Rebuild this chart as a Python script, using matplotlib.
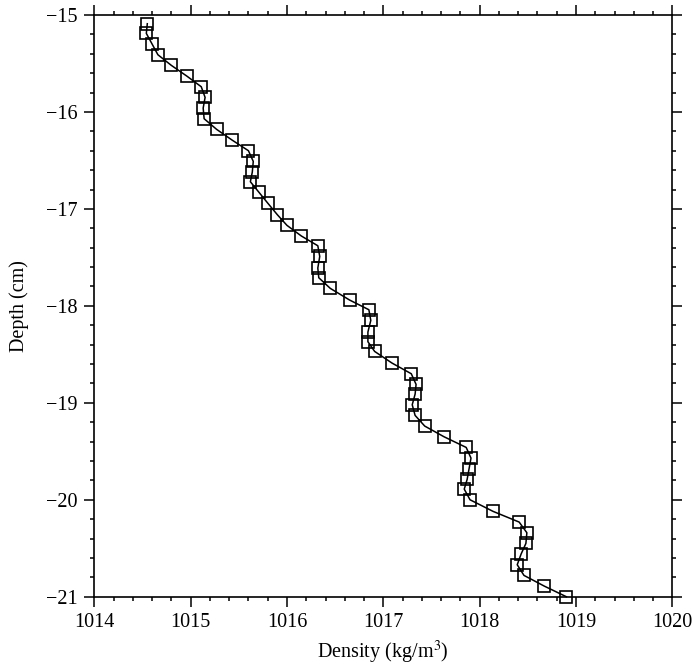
import matplotlib
matplotlib.use('Agg')
import matplotlib.pyplot as plt
from matplotlib.ticker import MultipleLocator

# density profile
density = [1014.55, 1014.54, 1014.60, 1014.66, 1014.80, 1014.96, 1015.11, 1015.15,
           1015.13, 1015.14, 1015.27, 1015.43, 1015.60, 1015.65, 1015.64, 1015.62,
           1015.71, 1015.80, 1015.90, 1016.00, 1016.15, 1016.32, 1016.34, 1016.32,
           1016.33, 1016.45, 1016.65, 1016.85, 1016.87, 1016.84, 1016.84, 1016.91,
           1017.09, 1017.29, 1017.34, 1017.33, 1017.30, 1017.33, 1017.43, 1017.63,
           1017.86, 1017.91, 1017.89, 1017.87, 1017.84, 1017.90, 1018.14, 1018.41,
           1018.49, 1018.48, 1018.43, 1018.39, 1018.46, 1018.67, 1018.90]
depth = [-15.09, -15.19, -15.30, -15.41, -15.52, -15.63, -15.74, -15.85,
         -15.96, -16.07, -16.18, -16.29, -16.40, -16.51, -16.62, -16.72,
         -16.83, -16.94, -17.06, -17.17, -17.28, -17.38, -17.49, -17.61,
         -17.71, -17.82, -17.94, -18.04, -18.15, -18.27, -18.37, -18.47,
         -18.59, -18.70, -18.81, -18.91, -19.02, -19.13, -19.24, -19.35,
         -19.46, -19.57, -19.68, -19.79, -19.89, -20.00, -20.12, -20.23,
         -20.34, -20.45, -20.56, -20.67, -20.78, -20.89, -21.00]

plt.rcParams['font.family'] = ['Liberation Serif', 'DejaVu Serif']
plt.rcParams['mathtext.fontset'] = 'stix'
plt.rcParams['axes.unicode_minus'] = True

fig = plt.figure(figsize=(6.96, 6.66), dpi=100)
ax = fig.add_axes([0.1355, 0.104, 0.8305, 0.8735])

ax.plot(density, depth, color='black', lw=1.1, marker='s', ms=8.5,
        mfc='none', mec='black', mew=1.2, clip_on=False, zorder=3)

ax.set_xlim(1014, 1020)
ax.set_ylim(-21, -15)
ax.xaxis.set_major_locator(MultipleLocator(1))
ax.xaxis.set_minor_locator(MultipleLocator(0.2))
ax.yaxis.set_major_locator(MultipleLocator(1))
ax.yaxis.set_minor_locator(MultipleLocator(0.2))
ax.tick_params(which='both', direction='out', top=True, right=True,
               labelsize=14.5, width=1.1)
ax.tick_params(which='major', length=7, pad=5)
ax.tick_params(which='minor', length=3)
for s in ax.spines.values():
    s.set_linewidth(1.2)

ax.set_xlabel('Density (kg/m$^{3}$)', fontsize=14.5, labelpad=5)
ax.set_ylabel('Depth (cm)', fontsize=14.5, labelpad=12)

fig.savefig('out.png', dpi=100)
